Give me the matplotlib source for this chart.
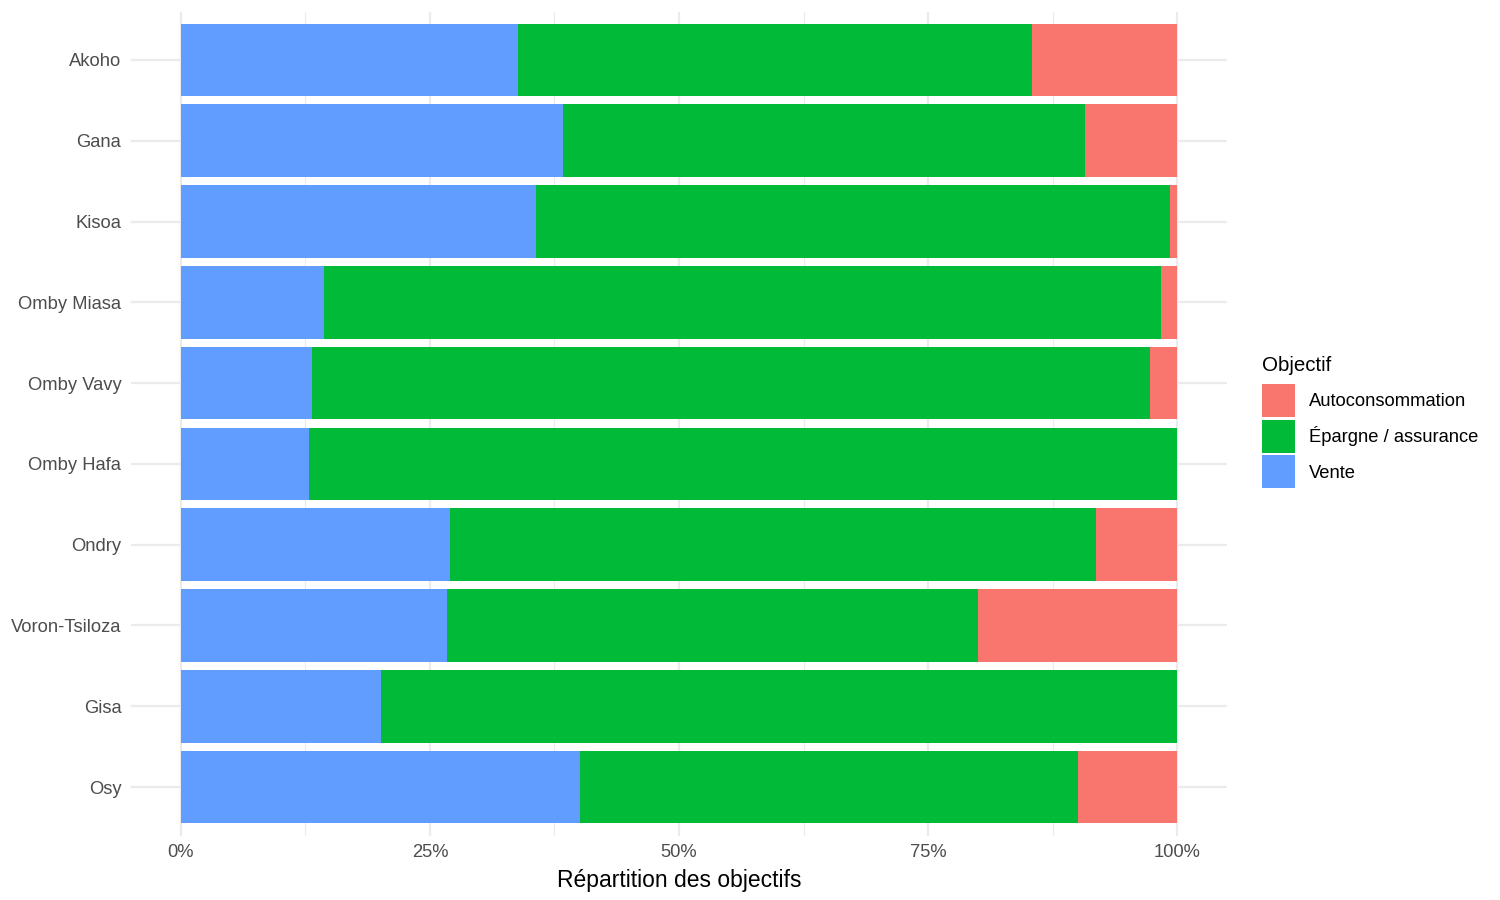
import numpy as np
import matplotlib
matplotlib.use("Agg")
import matplotlib.pyplot as plt
from matplotlib.patches import Patch
from matplotlib.ticker import FixedLocator

plt.rcParams['font.family'] = ['Liberation Sans', 'DejaVu Sans']

# data (percent of each race's objectives)
races = ["Akoho", "Gana", "Kisoa", "Omby Miasa", "Omby Vavy",
         "Omby Hafa", "Ondry", "Voron-Tsiloza", "Gisa", "Osy"]
vente = [33.8, 38.4, 35.6, 14.4, 13.2, 12.9, 27.0, 26.7, 20.1, 40.1]
epargne = [51.6, 52.3, 63.7, 84.0, 84.1, 87.1, 64.9, 53.3, 79.9, 49.9]
autoconso = [14.6, 9.3, 0.7, 1.6, 2.7, 0.0, 8.1, 20.0, 0.0, 10.0]

labels = ["Autoconsommation", "Épargne / assurance", "Vente"]
colors = ["#F8766D", "#00BA38", "#619CFF"]
xticks = [0, 25, 50, 75, 100]
xticklabels = ["0%", "25%", "50%", "75%", "100%"]

fig = plt.figure(figsize=(15, 9), dpi=100)
ax = fig.add_axes([131 / 1500, 64.5 / 900, 1096 / 1500, 824 / 900])

# first category on top
y = np.arange(len(races))[::-1] + 1
vente = np.array(vente)
epargne = np.array(epargne)
autoconso = np.array(autoconso)

ax.barh(y, vente, height=0.9, color=colors[2], zorder=2)
ax.barh(y, epargne, left=vente, height=0.9, color=colors[1], zorder=2)
ax.barh(y, autoconso, left=vente + epargne, height=0.9, color=colors[0], zorder=2)

ax.set_xlim(-5, 105)
ax.set_ylim(0.4, len(races) + 0.6)
ax.set_yticks(y)
ax.set_yticklabels(races)
ax.set_xticks(xticks)
ax.set_xticklabels(xticklabels)
ax.xaxis.set_minor_locator(FixedLocator([12.5, 37.5, 62.5, 87.5]))

for s in ax.spines.values():
    s.set_visible(False)
ax.tick_params(axis='both', which='both', length=0, labelsize=13.2, colors="#4D4D4D")
ax.tick_params(axis='y', pad=7)
ax.tick_params(axis='x', pad=6)
ax.grid(True, which='major', color="#EBEBEB", linewidth=1.6, zorder=0)
ax.grid(True, which='minor', axis='x', color="#EBEBEB", linewidth=0.8, zorder=0)
ax.set_axisbelow(True)

ax.set_xlabel("Répartition des objectifs", fontsize=16.5, color="black", labelpad=6)

handles = [Patch(facecolor=c, edgecolor='none') for c in colors]
leg = fig.legend(handles, labels, title="Objectif", loc='upper left',
                 bbox_to_anchor=(1255 / 1500, 1 - 349 / 900), frameon=False,
                 fontsize=13.2, title_fontsize=14.8, handlelength=1.8,
                 handleheight=2.4, labelspacing=0.15, handletextpad=0.75,
                 borderaxespad=0)
leg._legend_box.align = "left"
leg._legend_box.sep = 6

fig.savefig("out.png", dpi=100, facecolor="white")
